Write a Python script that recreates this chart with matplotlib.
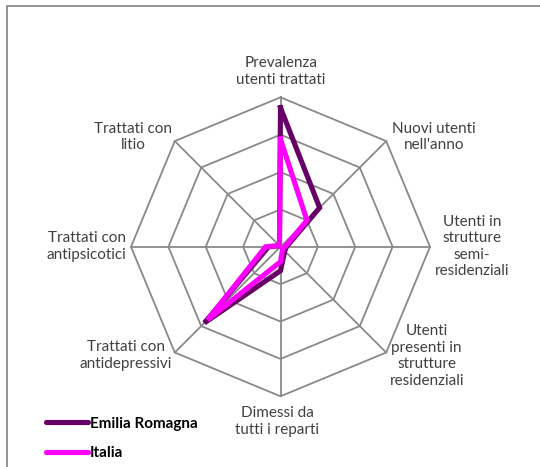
import numpy as np
import matplotlib
matplotlib.use("Agg")
import matplotlib.pyplot as plt
from matplotlib.lines import Line2D
from matplotlib.patches import Rectangle

categories = [
    "Prevalenza\nutenti trattati",
    "Nuovi utenti\nnell'anno",
    "Utenti in\nstrutture\nsemi-\nresidenziali",
    "Utenti\npresenti in\nstrutture\nresidenziali",
    "Dimessi da\ntutti i reparti",
    "Trattati con\nantidepressivi",
    "Trattati con\nantipsicotici",
    "Trattati con\nlitio",
]
series_names = ["Emilia Romagna", "Italia"]
emilia_romagna = [0.93, 0.37, 0.04, 0.04, 0.16, 0.72, 0.08, 0.01]
italia = [0.72, 0.25, 0.03, 0.02, 0.10, 0.69, 0.10, 0.01]
ring_levels = [0.25, 0.5, 0.75, 1.0]

colors = ["#660066", "#FF00FF"]
grid_color = "#898989"
text_color = "#404040"
FONT = "Lato"

W, H = 540, 467
fig = plt.figure(figsize=(W / 100, H / 100), dpi=100)

# outer chart frame (cropped on right/bottom)
fig.patches.append(Rectangle((7 / W, -0.05), 1.1, 1 - 6 / H + 0.05, transform=fig.transFigure,
                             fill=False, edgecolor=grid_color, lw=1.3))

cx, cy, R = 280.5, 246.8, 149.5
ax = fig.add_axes([(cx - R) / W, (H - cy - R) / H, 2 * R / W, 2 * R / H], projection="polar")
ax.set_theta_zero_location("N")
ax.set_theta_direction(-1)
ax.set_ylim(0, 1)
ax.axis("off")

n = len(categories)
theta = np.arange(n) * 2 * np.pi / n
theta_closed = np.append(theta, theta[0])

for lv in ring_levels:
    ax.plot(theta_closed, [lv] * (n + 1), color=grid_color, lw=1.3, zorder=1, clip_on=False)
for t in theta:
    ax.plot([t, t], [0, 1], color=grid_color, lw=1.3, zorder=1, clip_on=False)

handles = []
for name, vals, c in zip(series_names, [emilia_romagna, italia], colors):
    v = np.append(vals, vals[0])
    ax.plot(theta_closed, v, color=c, lw=3.7, zorder=3, solid_joinstyle="miter", clip_on=False)
    handles.append(Line2D([], [], color=c, lw=3.7, solid_capstyle="round"))

label_pos = [
    (281, 71.7), (434, 137), (471.7, 246.6), (426.7, 356),
    (277.3, 421.7), (126, 355.5), (86.7, 246.3), (133.3, 137),
]
for lab, (x, y) in zip(categories, label_pos):
    fig.text(x / W, 1 - y / H, lab, ha="center", va="center", multialignment="center",
             fontsize=11, color=text_color, family=FONT, linespacing=1.22)

leg = fig.legend(handles, series_names, loc="upper left",
                 bbox_to_anchor=(38 / W, 1 - 409 / H), frameon=False,
                 prop={"family": FONT, "weight": "bold", "size": 11},
                 handlelength=2.8, handletextpad=0.1, labelspacing=1.0, borderpad=0)
for t in leg.get_texts():
    t.set_color("black")

fig.savefig("out.png", dpi=100)
